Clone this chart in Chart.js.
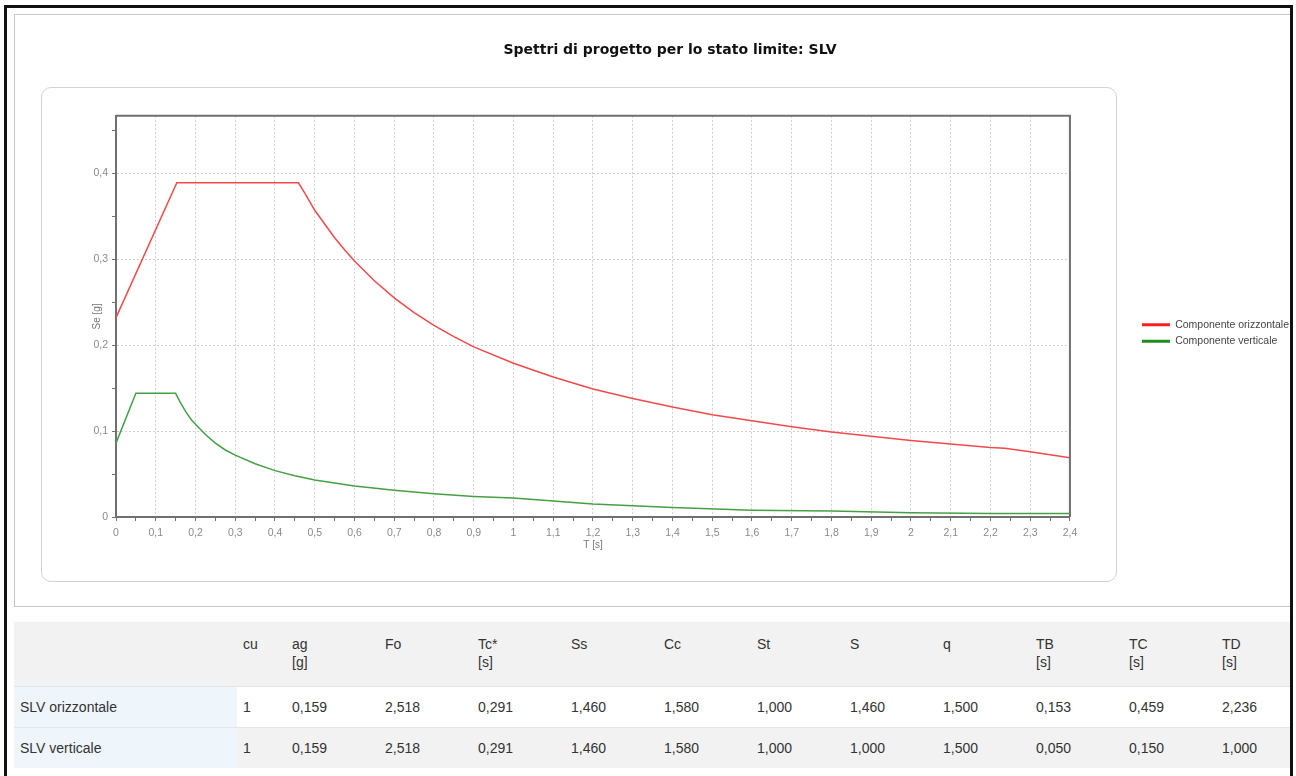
<!DOCTYPE html>
<html>
<head>
<meta charset="utf-8">
<script src="https://cdn.jsdelivr.net/npm/chart.js@4.4.1/dist/chart.umd.min.js"></script>
<style>
  html, body { margin: 0; padding: 0; background: #fff; overflow: hidden; }
  body { width: 1296px; height: 776px; position: relative; font-family: 'Liberation Sans', Arial, sans-serif; }
  .frame { position: absolute; background: #111; z-index: 10; }
  #panel { position: absolute; left: 14px; top: 14px; width: 1290px; height: 593px; box-sizing: border-box;
           border: 1px solid #c6c6c6; background: #fff; }
  #plotBox { position: absolute; left: 41px; top: 87px; width: 1076px; height: 495px; box-sizing: border-box;
             border: 1px solid #d2d2d2; border-radius: 10px; z-index: 1; }
  #chartWrap { position: absolute; left: 12px; top: 14px; width: 1300px; height: 592px; z-index: 2; }
  #params { position: absolute; left: 14px; top: 622px; border-collapse: collapse; table-layout: fixed;
            width: 1295px; font-size: 14px; color: #333; z-index: 2; }
  #params th { background: #f2f2f2; font-weight: normal; text-align: left; vertical-align: top;
               padding: 13px 6px 0 6px; height: 51px; line-height: 18px; border-bottom: 1px solid #e4e4e4; }
  #params td { height: 40px; padding: 0 6px; vertical-align: middle; }
  #params tr.r1 td { background: #fff; border-bottom: 1px solid #e6e6e6; }
  #params tr.r2 td { background: #f2f2f2; }
  #params td.name { background: #eef6fc !important; }
</style>
</head>
<body>
<div class="frame" style="left:4px; top:5px; width:1290px; height:3px;"></div>
<div class="frame" style="left:4px; top:5px; width:3px; height:771px;"></div>
<div class="frame" style="left:1290px; top:5px; width:3px; height:771px;"></div>
<div style="position:absolute; left:1293px; top:0; width:3px; height:776px; background:#fff; z-index:10;"></div>

<div id="panel"></div>
<div id="plotBox"></div>
<div id="chartWrap"><canvas id="spectra"></canvas></div>
<table id="params"></table>

<script>
// Periods T [s] and spectral accelerations Se [g]
const periodsOriz = [0, 0.153, 0.459, 0.475, 0.5, 0.525, 0.55, 0.575, 0.6, 0.65, 0.7, 0.75, 0.8, 0.85, 0.9, 1.0,
                     1.1, 1.2, 1.3, 1.4, 1.5, 1.6, 1.7, 1.8, 1.9, 2.0, 2.1, 2.2, 2.236, 2.3, 2.4];
const seOriz = [0.232, 0.389, 0.389, 0.377, 0.357, 0.341, 0.325, 0.311, 0.298, 0.275, 0.255, 0.238, 0.223,
                0.210, 0.198, 0.179, 0.163, 0.149, 0.138, 0.128, 0.119, 0.112, 0.105, 0.099, 0.094, 0.089,
                0.085, 0.081, 0.080, 0.076, 0.069];

const periodsVert = [0, 0.05, 0.15, 0.16, 0.175, 0.19, 0.2, 0.225, 0.25, 0.275, 0.3, 0.35, 0.4, 0.45, 0.5,
                     0.6, 0.7, 0.8, 0.9, 1.0, 1.2, 1.4, 1.6, 1.8, 2.0, 2.2, 2.4];
const seVert = [0.086, 0.144, 0.144, 0.135, 0.123, 0.113, 0.108, 0.096, 0.086, 0.078, 0.072, 0.062, 0.054,
                0.048, 0.043, 0.036, 0.031, 0.027, 0.024, 0.022, 0.015, 0.011, 0.008, 0.007, 0.005, 0.004, 0.004];

const seriesNames = ['Componente orizzontale', 'Componente verticale'];

// Axis ranges and tick steps
const xMin = 0, xMax = 2.4;
const yMin = 0, yMax = 0.467;
const tickStep = 0.05;

// Parameter table
const tableHeaders = ['', 'cu', 'ag<br>[g]', 'Fo', 'Tc*<br>[s]', 'Ss', 'Cc', 'St', 'S', 'q', 'TB<br>[s]', 'TC<br>[s]', 'TD<br>[s]'];
const rowNames = ['SLV orizzontale', 'SLV verticale'];
const rowOriz = ['1', '0,159', '2,518', '0,291', '1,460', '1,580', '1,000', '1,460', '1,500', '0,153', '0,459', '2,236'];
const rowVert = ['1', '0,159', '2,518', '0,291', '1,460', '1,580', '1,000', '1,000', '1,500', '0,050', '0,150', '1,000'];
const colWidths = [223, 49, 93, 93, 93, 93, 93, 93, 93, 93, 93, 93, 93];

// build table
const table = document.getElementById('params');
let html = '<colgroup>' + colWidths.map(w => `<col style="width:${w}px">`).join('') + '</colgroup>';
html += '<tr>' + tableHeaders.map(h => `<th>${h}</th>`).join('') + '</tr>';
[rowOriz, rowVert].forEach((row, i) => {
    html += `<tr class="r${i + 1}"><td class="name">${rowNames[i]}</td>` + row.map(v => `<td>${v}</td>`).join('') + '</tr>';
});
table.innerHTML = html;

function isMajor(v) {
    return Math.abs(Math.round(v * 10) - v * 10) < 1e-6;
}
function fmt(v) {
    return parseFloat(v.toFixed(1)).toString().replace('.', ',');
}

const axisColor = '#707070';
const gridColor = '#d0d0d0';

// frame around the plot area (top and right sides)
const plotFrame = {
    id: 'plotFrame',
    afterDatasetsDraw(chart) {
        const {ctx, chartArea: a} = chart;
        ctx.save();
        ctx.strokeStyle = axisColor;
        ctx.lineWidth = 2;
        ctx.beginPath();
        ctx.moveTo(a.left, a.top);
        ctx.lineTo(a.right, a.top);
        ctx.lineTo(a.right, a.bottom);
        ctx.stroke();
        ctx.restore();
    }
};

Chart.defaults.font.family = "'Liberation Sans', Arial, sans-serif";

const ctx = document.getElementById('spectra').getContext('2d');
new Chart(ctx, {
    type: 'line',
    data: {
        datasets: [{
            label: seriesNames[0],
            data: periodsOriz.map((t, i) => ({x: t, y: seOriz[i]})),
            borderColor: '#f24a4a',
            borderWidth: 1.5,
            pointRadius: 0,
            tension: 0
        }, {
            label: seriesNames[1],
            data: periodsVert.map((t, i) => ({x: t, y: seVert[i]})),
            borderColor: '#45a045',
            borderWidth: 1.5,
            pointRadius: 0,
            tension: 0
        }]
    },
    options: {
        responsive: true,
        maintainAspectRatio: false,
        animation: false,
        layout: { padding: { left: 29, right: 13, top: 0, bottom: 53 } },
        plugins: {
            title: {
                display: true,
                text: 'Spettri di progetto per lo stato limite: SLV',
                color: '#111',
                font: { family: "'DejaVu Sans', Verdana, sans-serif", size: 14, weight: 'bold' },
                padding: { top: 28, bottom: 57 }
            },
            legend: {
                position: 'right',
                fullSize: false,
                align: 'center',
                title: { display: true, text: '', font: { size: 10 }, padding: { top: 21, bottom: 0 } },
                labels: {
                    usePointStyle: true,
                    pointStyle: 'line',
                    pointStyleWidth: 28,
                    padding: 6,
                    color: '#444',
                    font: { size: 10.5 },
                    generateLabels(chart) {
                        const items = Chart.defaults.plugins.legend.labels.generateLabels(chart);
                        const colors = ['#ff1e1e', '#1f8c1f'];
                        items.forEach((item, i) => {
                            item.strokeStyle = colors[i];
                            item.lineWidth = 3;
                        });
                        return items;
                    }
                }
            },
            tooltip: { enabled: false }
        },
        scales: {
            x: {
                type: 'linear',
                min: xMin,
                max: xMax,
                ticks: {
                    stepSize: tickStep,
                    includeBounds: false,
                    autoSkip: false,
                    maxRotation: 0,
                    padding: 6,
                    color: '#8a8a8a',
                    font: { size: 10.5 },
                    callback: v => isMajor(v) ? fmt(v) : ''
                },
                grid: {
                    color: c => (c.tick && isMajor(c.tick.value)) ? gridColor : 'rgba(0,0,0,0)',
                    tickColor: axisColor,
                    tickLength: 4
                },
                border: { display: true, color: axisColor, width: 2, dash: [2, 2] },
                title: { display: true, text: 'T [s]', color: '#777', font: { size: 10 }, padding: { top: 0, bottom: 2 } },
                afterFit: s => { s.height = 36; }
            },
            y: {
                type: 'linear',
                min: yMin,
                max: yMax,
                ticks: {
                    stepSize: tickStep,
                    includeBounds: false,
                    autoSkip: false,
                    padding: 4,
                    color: '#8a8a8a',
                    font: { size: 10.5 },
                    callback: v => isMajor(v) ? fmt(v) : ''
                },
                grid: {
                    color: c => (c.tick && isMajor(c.tick.value)) ? gridColor : 'rgba(0,0,0,0)',
                    tickColor: axisColor,
                    tickLength: 4
                },
                border: { display: true, color: axisColor, width: 2, dash: [2, 2] },
                title: { display: true, text: 'Se [g]', color: '#777', font: { size: 10 }, padding: { top: 50, bottom: 0 } },
                afterFit: s => { s.width = 75; }
            },
            gap: {
                type: 'linear',
                position: 'right',
                display: true,
                grid: { display: false, drawTicks: false },
                ticks: { display: false },
                border: { display: false },
                afterFit: s => { s.width = 66; }
            }
        }
    },
    plugins: [plotFrame]
});
</script>
</body>
</html>
